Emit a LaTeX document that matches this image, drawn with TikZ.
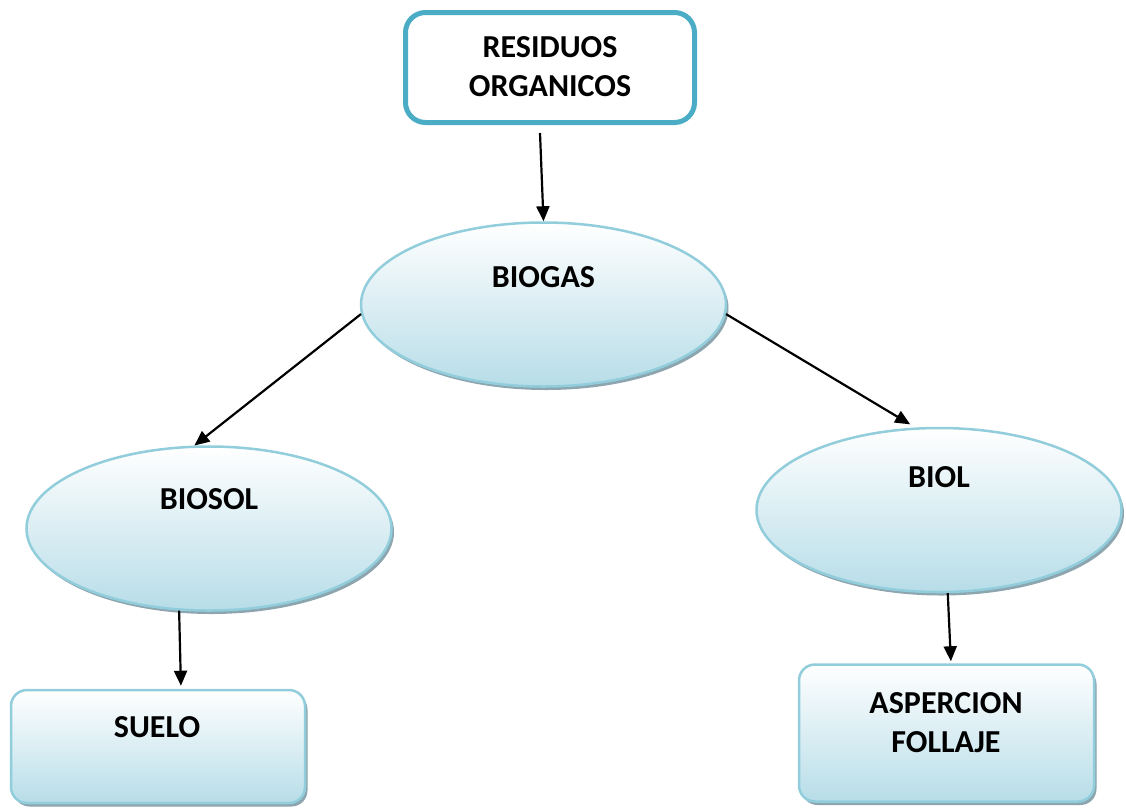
\documentclass[tikz,border=0pt]{standalone}
\usepackage{fontspec}
\setmainfont{Carlito}
\usetikzlibrary{shapes.geometric,shadows,arrows.meta}
\definecolor{topborder}{RGB}{75,172,198}
\definecolor{lightborder}{RGB}{146,205,220}
\definecolor{fillblue}{RGB}{183,221,232}
\definecolor{shadowc}{RGB}{140,165,175}
\tikzset{
  lbl/.style={font=\fontsize{32}{39}\selectfont\bfseries, align=center, inner sep=0pt},
  softshade/.style={draw=lightborder, line width=2.5pt, top color=white, bottom color=fillblue,
    drop shadow={shadow xshift=2.5pt, shadow yshift=-3.5pt, fill=shadowc, opacity=1}},
  bell/.style={ellipse, softshade, minimum width=365pt, minimum height=164pt, inner sep=0pt},
  sbox/.style={rectangle, softshade, rounded corners=16pt, inner sep=0pt},
  conn/.style={line width=2.2pt, -{Triangle[length=15pt,width=13pt]}},
}
\begin{document}
\begin{tikzpicture}[x=1pt,y=-1pt]
\useasboundingbox (0,0) rectangle (1126,807);
\node[rectangle, draw=topborder, line width=5pt, rounded corners=20pt, fill=white,
  minimum width=289pt, minimum height=110pt] (top) at (550,67.5) {};
\node[lbl] (toplbl) at (550,67) {RESIDUOS\\ORGANICOS};

\node[bell] (biogas) at (543.5,304.5) {};
\node[lbl] (biogaslbl) at (543.5,277) {BIOGAS};

\node[bell] (biosol) at (209,528.5) {};
\node[lbl] (biosollbl) at (209,499) {BIOSOL};

\node[bell] (biol) at (939,510) {};
\node[lbl] (biollbl) at (939,477) {BIOL};

\node[sbox, minimum width=294pt, minimum height=113pt] (suelo) at (158,746.5) {};
\node[lbl] (suelolbl) at (157,727) {SUELO};

\node[sbox, minimum width=295pt, minimum height=137pt] (asp) at (946.5,733) {};
\node[lbl] (asplbl) at (946,723) {ASPERCION\\FOLLAJE};

\draw[conn] ([shift={(-10,8)}]top.south) -- (biogas.north);
\draw[conn] (biogas.183) -- (biosol.100);
\draw[conn, shorten >=6pt] (biogas.357) -- (biol.106);
\draw[conn, shorten >=3pt] (biosol.250) -- ([xshift=23pt]suelo.north);
\draw[conn, shorten >=2pt] (biol.276) -- ([xshift=4.5pt]asp.north);
\end{tikzpicture}
\end{document}
